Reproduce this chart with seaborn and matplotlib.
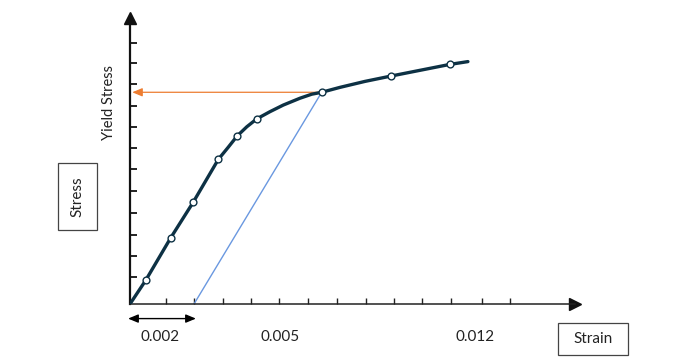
import matplotlib
matplotlib.use("Agg")
import matplotlib.pyplot as plt
import seaborn as sns
import pandas as pd
from matplotlib.patches import Rectangle

# ---- data ----
strain = [0, 0.00049, 0.00127, 0.00198, 0.00276, 0.00307, 0.00335,
          0.00365, 0.00396, 0.004375, 0.00479, 0.00531, 0.00568, 0.00599,
          0.00656, 0.00734, 0.00815, 0.0100, 0.01056]
stress = [0, 1.11, 3.10, 4.79, 6.79, 7.36, 7.89,
          8.32, 8.69, 9.03, 9.34, 9.66, 9.85, 9.94,
          10.17, 10.45, 10.70, 11.25, 11.38]
marked = [False, True, True, True, True, False, True,
          False, True, False, False, False, False, True,
          False, False, True, True, False]

x_ticks = [0.001125, 0.002, 0.0029, 0.00378, 0.00466, 0.00556, 0.00647,
           0.00738, 0.00825, 0.00913, 0.01003, 0.0110, 0.01188]
y_ticks = [1.27, 2.25, 3.24, 4.27, 5.31, 6.34, 7.32, 8.31, 9.30, 10.33, 11.31, 12.25]

offset_strain = 0.002
yield_strain = 0.00599
yield_stress = 9.94

x_labels = ["0.002", "0.005", "0.012"]
x_label_pos = [0.00094, 0.00469, 0.01078]

df = pd.DataFrame({"strain": strain, "stress": stress, "marked": marked})

sns.set_style("white")
plt.rcParams["font.family"] = ["Lato", "DejaVu Sans"]

W, H = 674, 364
fig = plt.figure(figsize=(W / 100, H / 100), dpi=100)
x0, y0, x1, y1 = 130, 304, 575, 18
ax = fig.add_axes([x0 / W, (H - y0) / H, (x1 - x0) / W, (y0 - y1) / H])
ax.set_xlim(0, (x1 - x0) / 32000)
ax.set_ylim(0, (y0 - y1) / 21.3)

# offset (0.2%) line
ax.plot([offset_strain, yield_strain], [0, yield_stress], color="#6a98e0", lw=1.0, zorder=2)

# yield arrow
ax.annotate("", xy=(0.00007, yield_stress), xytext=(yield_strain, yield_stress),
            arrowprops=dict(arrowstyle="-|>,head_length=0.6,head_width=0.25",
                            color="#ED7D31", lw=0.9, shrinkA=0, shrinkB=0),
            zorder=3)

# stress-strain curve
sns.lineplot(data=df, x="strain", y="stress", ax=ax, color="#0d3144", lw=2.4,
             sort=False, zorder=4)
ax.lines[-1].set_solid_joinstyle("round")
ax.lines[-1].set_solid_capstyle("round")
sns.scatterplot(data=df[df["marked"]], x="strain", y="stress", ax=ax, s=24,
                marker="o", facecolor="white", edgecolor="#0d3144", linewidth=1.0,
                zorder=5)

# axes styling
for side in ["top", "right"]:
    ax.spines[side].set_visible(False)
ax.spines["left"].set_linewidth(1.6)
ax.spines["left"].set_color("#111111")
ax.spines["bottom"].set_linewidth(1.1)
ax.spines["bottom"].set_color("#222222")
ax.set_xticks(x_ticks)
ax.set_yticks(y_ticks)
ax.tick_params(axis="y", direction="in", length=5, width=1.3, color="#111111",
               labelleft=False, left=True)
ax.tick_params(axis="x", direction="in", length=4, width=1.0, color="#222222",
               labelbottom=False, bottom=True)
ax.set_xlabel("")
ax.set_ylabel("")

# arrow heads on axes
ax.plot(1, 0, ">", color="#111111", ms=8, transform=ax.get_yaxis_transform(), clip_on=False)
ax.plot(0, 1, "^", color="#111111", ms=8, transform=ax.get_xaxis_transform(), clip_on=False)

# double arrow under the 0.002 interval
ax.annotate("", xy=(-0.00006, -0.051), xytext=(offset_strain + 0.00006, -0.051),
            xycoords=ax.get_xaxis_transform(), textcoords=ax.get_xaxis_transform(),
            arrowprops=dict(arrowstyle="<|-|>,head_length=0.6,head_width=0.25",
                            color="black", lw=1.0, shrinkA=0, shrinkB=0),
            annotation_clip=False)

for lab, pos in zip(x_labels, x_label_pos):
    ax.text(pos, -0.115, lab, transform=ax.get_xaxis_transform(), ha="center",
            va="center", fontsize=11, color="#222222")

# Yield Stress label
fig.text(109 / W, 1 - 102 / H, "Yield Stress", rotation=90, ha="center", va="center",
         fontsize=10.5, color="#222222")

# boxed labels
def boxed(cx, cy, w, h, text, rot=0):
    fig.patches.append(Rectangle(((cx - w / 2) / W, 1 - (cy + h / 2) / H), w / W, h / H,
                                 transform=fig.transFigure, fill=False,
                                 edgecolor="#444444", lw=0.9))
    fig.text(cx / W, 1 - cy / H, text, rotation=rot, ha="center", va="center",
             fontsize=11, color="#222222")

boxed(77.3, 196.5, 38.7, 67, "Stress", rot=90)
boxed(593, 339, 70.6, 32.6, "Strain")

fig.savefig("out.png", dpi=100)
